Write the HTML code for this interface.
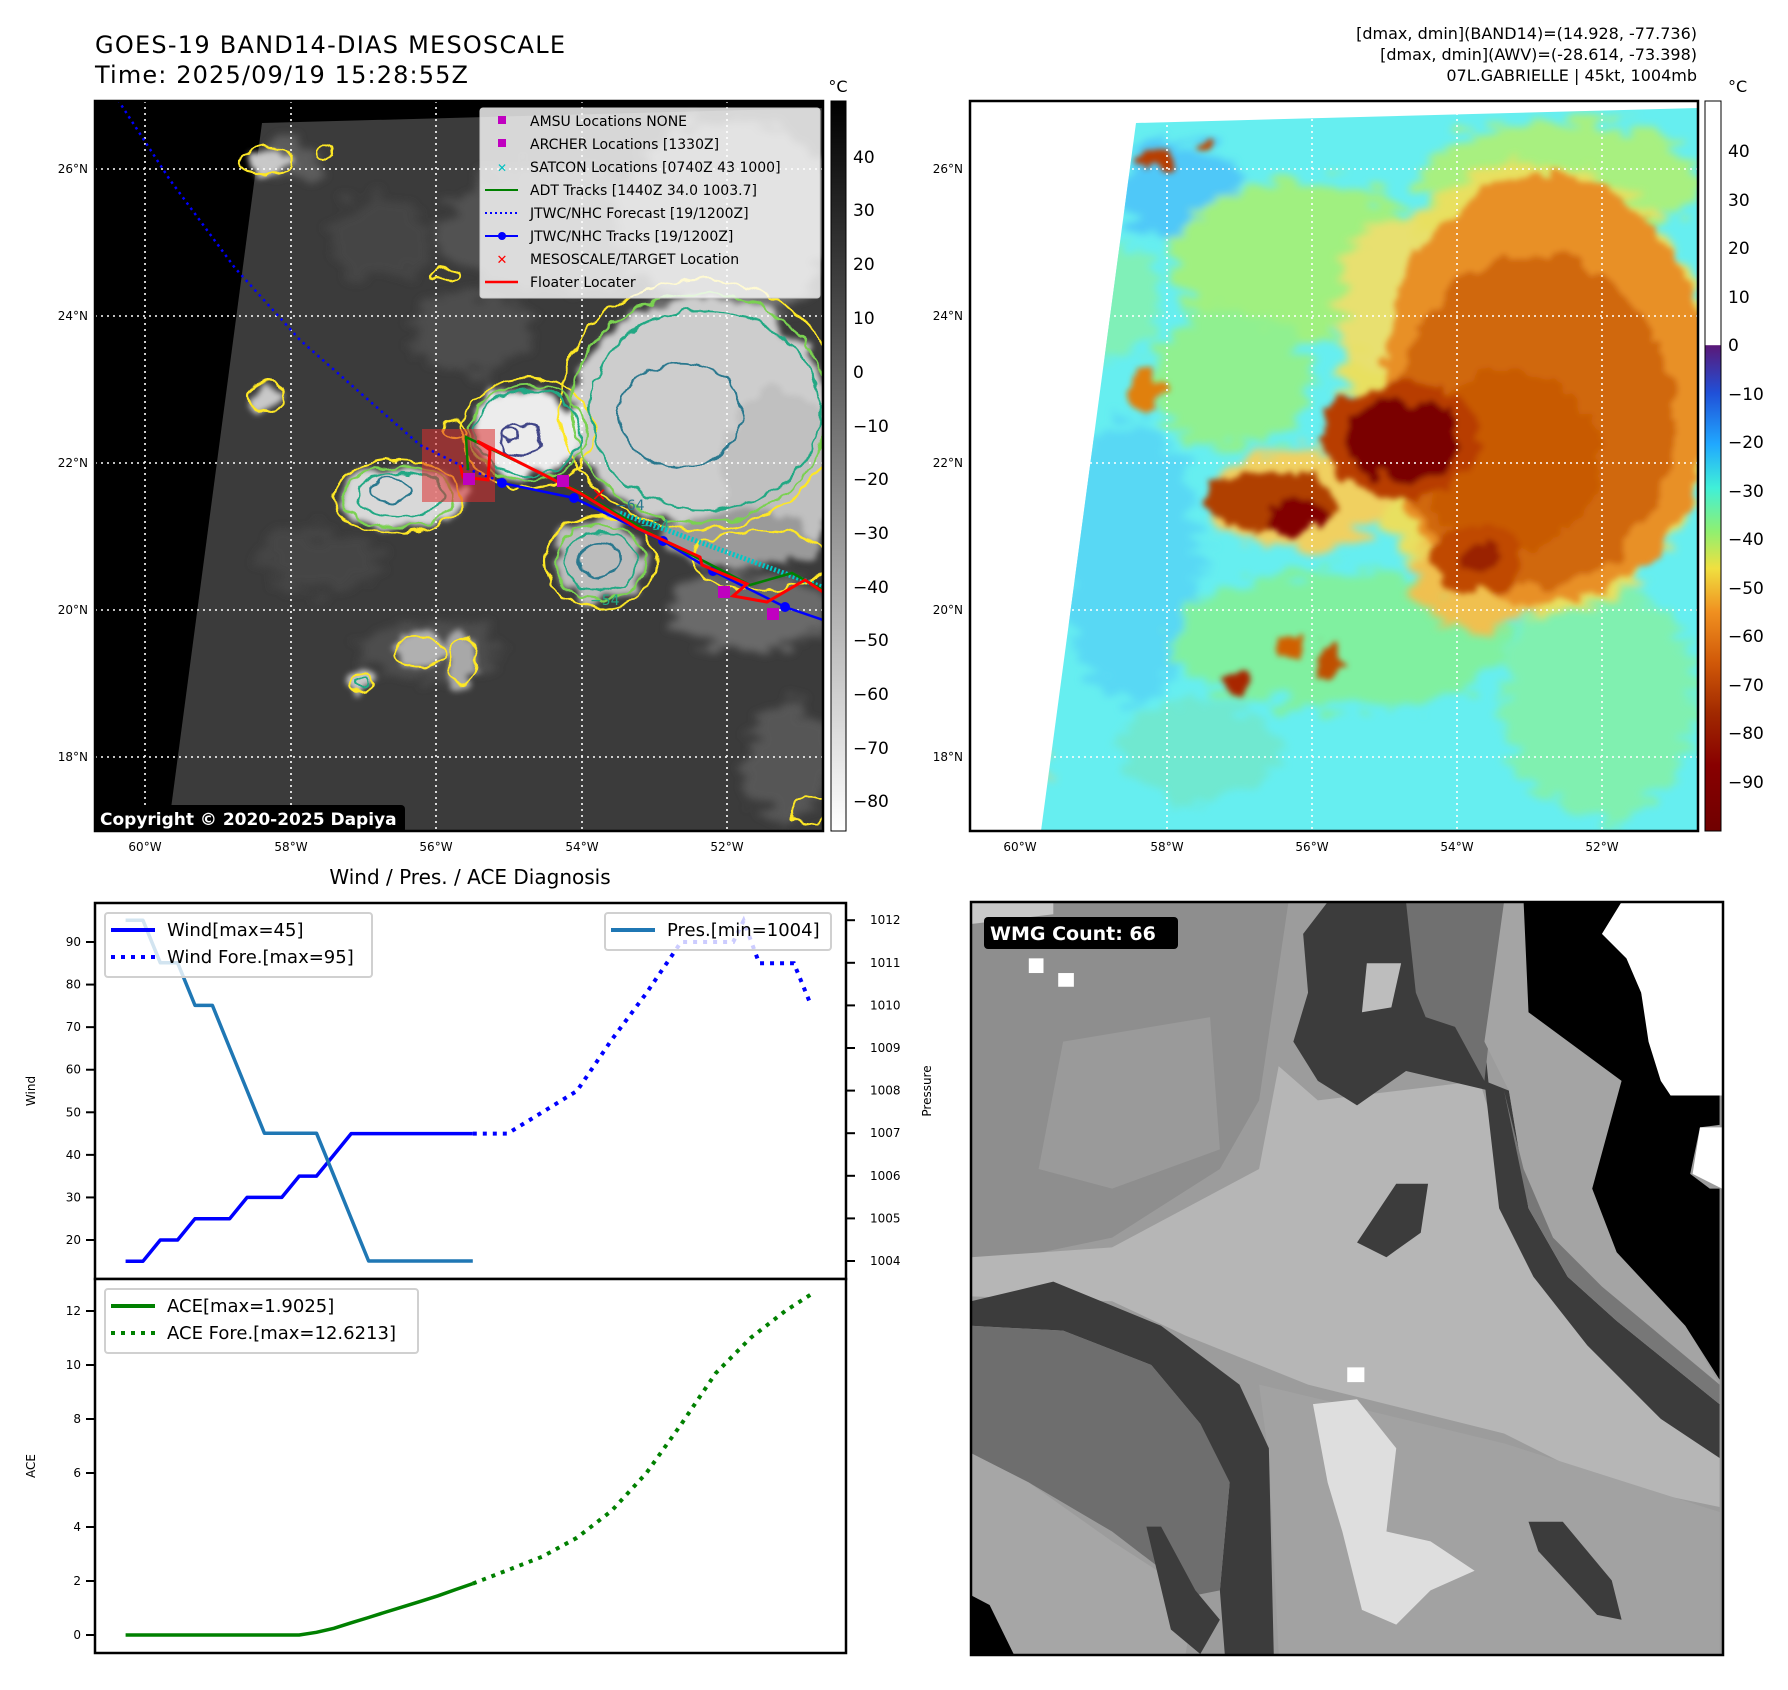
<!DOCTYPE html>
<html><head><meta charset="utf-8">
<style>
html,body{margin:0;padding:0;background:#fff;}
svg{display:block;font-family:"DejaVu Sans","Liberation Sans",sans-serif;}
</style></head>
<body>
<svg id="fig" width="1788" height="1690" viewBox="0 0 1788 1690" xmlns="http://www.w3.org/2000/svg">
<defs>
  <clipPath id="clipL"><rect x="95" y="101" width="728" height="730"/></clipPath>
  <clipPath id="clipR"><rect x="970" y="101" width="728" height="730"/></clipPath>
  <clipPath id="clipFoot"><polygon points="1136,123 1698,108 1698,831 1041,831"/></clipPath>
  <filter id="blur6" x="-30%" y="-30%" width="160%" height="160%"><feGaussianBlur stdDeviation="6"/></filter>
  <filter id="blur12" x="-30%" y="-30%" width="160%" height="160%"><feGaussianBlur stdDeviation="12"/></filter>
  <filter id="blur20" x="-30%" y="-30%" width="160%" height="160%"><feGaussianBlur stdDeviation="20"/></filter>
  <filter id="wob" x="-10%" y="-10%" width="120%" height="120%">
    <feTurbulence type="fractalNoise" baseFrequency="0.06" numOctaves="2" seed="3" result="n"/>
    <feDisplacementMap in="SourceGraphic" in2="n" scale="12" xChannelSelector="R" yChannelSelector="G"/>
  </filter>
  <filter id="wobBlur" x="-20%" y="-20%" width="140%" height="140%">
    <feTurbulence type="fractalNoise" baseFrequency="0.04" numOctaves="3" seed="7" result="n"/>
    <feDisplacementMap in="SourceGraphic" in2="n" scale="30" xChannelSelector="R" yChannelSelector="G" result="d"/>
    <feGaussianBlur in="d" stdDeviation="3"/>
  </filter>
  <filter id="streak" x="-20%" y="-20%" width="140%" height="140%">
    <feTurbulence type="fractalNoise" baseFrequency="0.03 0.09" numOctaves="3" seed="11" result="n"/>
    <feDisplacementMap in="SourceGraphic" in2="n" scale="50" xChannelSelector="R" yChannelSelector="G" result="d"/>
    <feGaussianBlur in="d" stdDeviation="4"/>
  </filter>
  <linearGradient id="grayBar" x1="0" y1="0" x2="0" y2="1">
    <stop offset="0" stop-color="#000"/><stop offset="1" stop-color="#fff"/>
  </linearGradient>
  <linearGradient id="awvBar" x1="0" y1="101" x2="0" y2="831" gradientUnits="userSpaceOnUse">
    <stop offset="0" stop-color="#fff"/>
    <stop offset="0.334" stop-color="#fff"/>
    <stop offset="0.335" stop-color="#5a1878"/>
    <stop offset="0.40" stop-color="#2050d8"/>
    <stop offset="0.47" stop-color="#20a8ff"/>
    <stop offset="0.53" stop-color="#40f0d8"/>
    <stop offset="0.59" stop-color="#90f070"/>
    <stop offset="0.64" stop-color="#f0e040"/>
    <stop offset="0.70" stop-color="#f09020"/>
    <stop offset="0.77" stop-color="#d05808"/>
    <stop offset="0.84" stop-color="#a02800"/>
    <stop offset="0.91" stop-color="#880000"/>
    <stop offset="1" stop-color="#700000"/>
  </linearGradient>
</defs>

<!-- ================= TITLES ================= -->
<text x="95" y="53" font-size="24" fill="#000" textLength="470">GOES-19 BAND14-DIAS MESOSCALE</text>
<text x="95" y="83" font-size="24" fill="#000" textLength="373">Time: 2025/09/19 15:28:55Z</text>
<g font-size="16" text-anchor="end" fill="#000">
  <text x="1697" y="39">[dmax, dmin](BAND14)=(14.928, -77.736)</text>
  <text x="1697" y="60">[dmax, dmin](AWV)=(-28.614, -73.398)</text>
  <text x="1697" y="81">07L.GABRIELLE | 45kt, 1004mb</text>
</g>

<!-- ================= LEFT MAP ================= -->
<g>
<g clip-path="url(#clipL)">
  <rect x="95" y="101" width="728" height="730" fill="#000"/>
  <polygon points="262,123 823,108 823,831 168,831" fill="#3b3b3b"/>
  <g filter="url(#streak)" opacity="0.9">
    <ellipse cx="560" cy="230" rx="120" ry="60" fill="#555"/>
    <ellipse cx="730" cy="220" rx="110" ry="100" fill="#7a7a7a"/>
    <ellipse cx="470" cy="330" rx="60" ry="40" fill="#505050"/>
    <ellipse cx="750" cy="610" rx="80" ry="40" fill="#707070"/>
    <ellipse cx="790" cy="760" rx="45" ry="60" fill="#5a5a5a"/>
    <ellipse cx="430" cy="650" rx="70" ry="30" fill="#505050"/>
    <ellipse cx="320" cy="560" rx="60" ry="30" fill="#474747"/>
    <ellipse cx="290" cy="160" rx="30" ry="18" fill="#606060"/>
    <ellipse cx="380" cy="240" rx="50" ry="40" fill="#474747"/>
  </g>
  <g filter="url(#wobBlur)">
    <ellipse cx="700" cy="410" rx="128" ry="112" fill="#cdcdcd"/>
    <ellipse cx="780" cy="470" rx="60" ry="80" fill="#c0c0c0"/>
    <ellipse cx="528" cy="433" rx="54" ry="44" fill="#ececec"/>
    <ellipse cx="400" cy="497" rx="60" ry="32" fill="#d8d8d8"/>
    <ellipse cx="600" cy="560" rx="48" ry="40" fill="#bcbcbc"/>
    <ellipse cx="740" cy="540" rx="80" ry="30" fill="#9a9a9a"/>
    <ellipse cx="266" cy="396" rx="16" ry="14" fill="#c8c8c8"/>
    <ellipse cx="268" cy="162" rx="22" ry="12" fill="#c8c8c8"/>
    <ellipse cx="362" cy="680" rx="14" ry="12" fill="#c8c8c8"/>
    <ellipse cx="420" cy="650" rx="26" ry="16" fill="#b0b0b0"/>
    <ellipse cx="460" cy="660" rx="16" ry="26" fill="#a8a8a8"/>
  </g>
  <g stroke="#fff" stroke-width="1.6" stroke-dasharray="2 4">
    <line x1="145" y1="101" x2="145" y2="831"/><line x1="291" y1="101" x2="291" y2="831"/>
    <line x1="436" y1="101" x2="436" y2="831"/><line x1="582" y1="101" x2="582" y2="831"/>
    <line x1="727" y1="101" x2="727" y2="831"/>
    <line x1="95" y1="169" x2="823" y2="169"/><line x1="95" y1="316" x2="823" y2="316"/>
    <line x1="95" y1="463" x2="823" y2="463"/><line x1="95" y1="610" x2="823" y2="610"/>
    <line x1="95" y1="757" x2="823" y2="757"/>
  </g>
  <g fill="none" stroke-width="2.2" filter="url(#wob)">
    <g stroke="#fde725">
      <ellipse cx="700" cy="405" rx="140" ry="125"/>
      <ellipse cx="528" cy="433" rx="66" ry="55"/>
      <ellipse cx="398" cy="497" rx="64" ry="36"/>
      <ellipse cx="600" cy="562" rx="55" ry="46"/>
      <ellipse cx="760" cy="560" rx="70" ry="30"/>
      <ellipse cx="268" cy="162" rx="26" ry="15"/>
      <ellipse cx="266" cy="396" rx="18" ry="15"/>
      <ellipse cx="362" cy="682" rx="12" ry="11"/>
      <ellipse cx="420" cy="652" rx="24" ry="15"/>
      <ellipse cx="463" cy="660" rx="14" ry="24"/>
      <ellipse cx="325" cy="152" rx="8" ry="6"/>
      <ellipse cx="445" cy="275" rx="14" ry="6"/>
      <ellipse cx="455" cy="430" rx="12" ry="10"/>
      <ellipse cx="810" cy="810" rx="18" ry="14"/>
    </g>
    <g stroke="#7ad151">
      <ellipse cx="700" cy="408" rx="128" ry="115"/>
      <ellipse cx="528" cy="433" rx="58" ry="48"/>
      <ellipse cx="398" cy="497" rx="56" ry="30"/>
      <ellipse cx="600" cy="562" rx="46" ry="38"/>
    </g>
    <g stroke="#22a884">
      <ellipse cx="705" cy="410" rx="115" ry="100"/>
      <ellipse cx="528" cy="433" rx="52" ry="43"/>
      <ellipse cx="400" cy="495" rx="44" ry="22"/>
      <ellipse cx="600" cy="562" rx="36" ry="30"/>
      <ellipse cx="362" cy="682" rx="7" ry="6"/>
    </g>
    <g stroke="#2a788e">
      <ellipse cx="680" cy="415" rx="62" ry="52"/>
      <ellipse cx="600" cy="560" rx="20" ry="18"/>
      <ellipse cx="390" cy="490" rx="20" ry="12"/>
    </g>
    <g stroke="#414487">
      <ellipse cx="520" cy="440" rx="20" ry="16"/>
      <ellipse cx="510" cy="435" rx="8" ry="6"/>
    </g>
  </g>
  <g font-size="14" fill="#22a884">
    <text x="640" y="530">−54</text><text x="590" y="605">−54</text><text x="615" y="510" fill="#2a788e">−64</text>
  </g>
  <rect x="422" y="429" width="73" height="73" fill="#dc3030" fill-opacity="0.55"/>
  <polyline points="118,100 170,180 235,268 300,340 365,397 420,445 470,470 497,480" fill="none" stroke="#0000ff" stroke-width="2.5" stroke-dasharray="2.5 4"/>
  <polyline points="497,480 502,483 574,498 663,541 713,571 785,607 823,620" fill="none" stroke="#0000ff" stroke-width="2.5"/>
  <g fill="#0000ff">
    <circle cx="502" cy="483" r="5"/><circle cx="574" cy="498" r="5"/><circle cx="663" cy="541" r="5"/>
    <circle cx="713" cy="571" r="5"/><circle cx="785" cy="607" r="5"/>
  </g>
  <polyline points="620,513 822,587" stroke="#00c8c8" stroke-width="5" stroke-dasharray="2 2" fill="none"/>
  <polyline points="468,470 466,437 580,492 657,537 750,585 792,573 823,590" fill="none" stroke="#008000" stroke-width="2.5"/>
  <polyline points="460,465 463,477 488,480 490,450 477,441 580,493 637,528 700,557 702,565 747,584 733,596 767,602 805,580 823,592" fill="none" stroke="#ff0000" stroke-width="3"/>
  <g fill="#c000c0">
    <rect x="463" y="473" width="12" height="12"/><rect x="557" y="475" width="12" height="12"/>
    <rect x="718" y="586" width="12" height="12"/><rect x="767" y="608" width="12" height="12"/>
  </g>
  <text x="599" y="501" font-size="18" font-weight="bold" fill="#ff0000" text-anchor="middle">✕</text>
  <g>
    <rect x="480" y="108" width="340" height="190" rx="3" fill="#fff" fill-opacity="0.8" stroke="#ccc"/>
    <g font-size="14" fill="#000">
      <rect x="498" y="116" width="8" height="8" fill="#c000c0"/><text x="530" y="126">AMSU Locations NONE</text>
      <rect x="498" y="139" width="8" height="8" fill="#c000c0"/><text x="530" y="149">ARCHER Locations [1330Z]</text>
      <text x="502" y="172" font-size="12" fill="#00c0c0" font-weight="bold" text-anchor="middle">✕</text><text x="530" y="172">SATCON Locations [0740Z 43 1000]</text>
      <line x1="485" y1="190" x2="518" y2="190" stroke="#008000" stroke-width="2"/><text x="530" y="195">ADT Tracks [1440Z 34.0 1003.7]</text>
      <line x1="485" y1="213" x2="518" y2="213" stroke="#0000ff" stroke-width="2" stroke-dasharray="2 3"/><text x="530" y="218">JTWC/NHC Forecast [19/1200Z]</text>
      <line x1="485" y1="236" x2="518" y2="236" stroke="#0000ff" stroke-width="2"/><circle cx="502" cy="236" r="4" fill="#0000ff"/><text x="530" y="241">JTWC/NHC Tracks [19/1200Z]</text>
      <text x="502" y="264" font-size="13" fill="#ff0000" font-weight="bold" text-anchor="middle">✕</text><text x="530" y="264">MESOSCALE/TARGET Location</text>
      <line x1="485" y1="282" x2="518" y2="282" stroke="#ff0000" stroke-width="2.5"/><text x="530" y="287">Floater Locater</text>
    </g>
  </g>
  <rect x="95" y="805" width="310" height="28" rx="4" fill="#000"/>
  <text x="100" y="825" font-size="17" font-weight="bold" fill="#fff">Copyright © 2020-2025 Dapiya</text>
</g>
<rect x="95" y="101" width="728" height="730" fill="none" stroke="#000" stroke-width="2.5"/>
<g font-size="12" fill="#000" text-anchor="end">
  <text x="88" y="173">26°N</text><text x="88" y="320">24°N</text><text x="88" y="467">22°N</text><text x="88" y="614">20°N</text><text x="88" y="761">18°N</text>
</g>
<g font-size="12" fill="#000" text-anchor="middle">
  <text x="145" y="851">60°W</text><text x="291" y="851">58°W</text><text x="436" y="851">56°W</text><text x="582" y="851">54°W</text><text x="727" y="851">52°W</text>
</g>
<rect x="831" y="101" width="15" height="730" fill="url(#grayBar)" stroke="#000" stroke-width="1"/>
<text x="838" y="92" font-size="16" text-anchor="middle">°C</text>
<g font-size="17" fill="#000">
  <text x="853" y="163">40</text><text x="853" y="216">30</text><text x="853" y="270">20</text><text x="853" y="324">10</text>
  <text x="853" y="378">0</text><text x="853" y="432">−10</text><text x="853" y="485">−20</text><text x="853" y="539">−30</text>
  <text x="853" y="593">−40</text><text x="853" y="646">−50</text><text x="853" y="700">−60</text><text x="853" y="754">−70</text><text x="853" y="807">−80</text>
</g>
</g>

<!-- ================= RIGHT MAP ================= -->
<g>
<g clip-path="url(#clipR)">
  <rect x="970" y="101" width="728" height="730" fill="#fff"/>
  <polygon points="1136,123 1698,108 1698,831 1041,831" fill="#66eef0"/>
  <g clip-path="url(#clipFoot)">
  <g filter="url(#streak)">
    <ellipse cx="1180" cy="190" rx="60" ry="50" fill="#50c8f8"/>
    <ellipse cx="1130" cy="560" rx="70" ry="140" fill="#58d8f4"/>
    <ellipse cx="1300" cy="260" rx="130" ry="80" fill="#a0f080"/>
    <ellipse cx="1230" cy="380" rx="80" ry="70" fill="#90f090"/>
    <ellipse cx="1340" cy="640" rx="170" ry="70" fill="#80f0a0"/>
    <ellipse cx="1600" cy="700" rx="100" ry="120" fill="#80f0b0"/>
    <ellipse cx="1560" cy="180" rx="140" ry="60" fill="#a8f080"/>
    <ellipse cx="1100" cy="300" rx="60" ry="60" fill="#80f0b8"/>
    <ellipse cx="1200" cy="750" rx="80" ry="50" fill="#70e8d0"/>
    <ellipse cx="1010" cy="760" rx="30" ry="50" fill="#e8d060"/>
  </g>
  <g filter="url(#streak)">
    <ellipse cx="1530" cy="390" rx="185" ry="225" fill="#e8e060"/>
    <ellipse cx="1300" cy="500" rx="90" ry="50" fill="#f0d060"/>
    <ellipse cx="1480" cy="575" rx="65" ry="55" fill="#f0c050"/>
    <ellipse cx="1400" cy="300" rx="60" ry="80" fill="#e8e070"/>
  </g>
  <g filter="url(#wobBlur)">
    <ellipse cx="1545" cy="390" rx="165" ry="215" fill="#e89028"/>
    <ellipse cx="1535" cy="420" rx="140" ry="165" fill="#d06808"/>
    <ellipse cx="1510" cy="460" rx="90" ry="90" fill="#c85a04"/>
    <ellipse cx="1402" cy="440" rx="80" ry="58" fill="#b83c00"/>
    <ellipse cx="1402" cy="440" rx="58" ry="42" fill="#7a0000"/>
    <ellipse cx="1270" cy="500" rx="66" ry="30" fill="#b04000"/>
    <ellipse cx="1296" cy="516" rx="32" ry="18" fill="#820400"/>
    <ellipse cx="1475" cy="560" rx="44" ry="34" fill="#c04800"/>
    <ellipse cx="1480" cy="555" rx="20" ry="14" fill="#9a2000"/>
    <ellipse cx="1239" cy="682" rx="14" ry="12" fill="#a82800"/>
    <ellipse cx="1290" cy="651" rx="14" ry="10" fill="#d06000"/>
    <ellipse cx="1328" cy="664" rx="12" ry="16" fill="#c05000"/>
    <ellipse cx="1160" cy="160" rx="18" ry="12" fill="#b83c00"/>
    <ellipse cx="1205" cy="146" rx="8" ry="7" fill="#c04800"/>
    <ellipse cx="1146" cy="388" rx="16" ry="20" fill="#e08010"/>
  </g>
  </g>
  <g stroke="#fff" stroke-width="1.6" stroke-dasharray="2 4">
    <line x1="1022" y1="101" x2="1022" y2="831"/><line x1="1167" y1="101" x2="1167" y2="831"/>
    <line x1="1312" y1="101" x2="1312" y2="831"/><line x1="1457" y1="101" x2="1457" y2="831"/>
    <line x1="1602" y1="101" x2="1602" y2="831"/>
    <line x1="970" y1="169" x2="1698" y2="169"/><line x1="970" y1="316" x2="1698" y2="316"/>
    <line x1="970" y1="463" x2="1698" y2="463"/><line x1="970" y1="610" x2="1698" y2="610"/>
    <line x1="970" y1="757" x2="1698" y2="757"/>
  </g>
</g>
<rect x="970" y="101" width="728" height="730" fill="none" stroke="#000" stroke-width="2.5"/>
<g font-size="12" fill="#000" text-anchor="end">
  <text x="963" y="173">26°N</text><text x="963" y="320">24°N</text><text x="963" y="467">22°N</text><text x="963" y="614">20°N</text><text x="963" y="761">18°N</text>
</g>
<g font-size="12" fill="#000" text-anchor="middle">
  <text x="1020" y="851">60°W</text><text x="1167" y="851">58°W</text><text x="1312" y="851">56°W</text><text x="1457" y="851">54°W</text><text x="1602" y="851">52°W</text>
</g>
<rect x="1705" y="101" width="16" height="730" fill="url(#awvBar)" stroke="#000" stroke-width="1"/>
<text x="1728" y="92" font-size="16">°C</text>
<g font-size="17" fill="#000">
  <text x="1728" y="157">40</text><text x="1728" y="206">30</text><text x="1728" y="254">20</text><text x="1728" y="303">10</text>
  <text x="1728" y="351">0</text><text x="1728" y="400">−10</text><text x="1728" y="448">−20</text><text x="1728" y="497">−30</text>
  <text x="1728" y="545">−40</text><text x="1728" y="594">−50</text><text x="1728" y="642">−60</text><text x="1728" y="691">−70</text>
  <text x="1728" y="739">−80</text><text x="1728" y="788">−90</text>
</g>
</g>

<!-- ================= WMG PANEL ================= -->
<g>
<svg x="971" y="902" width="752" height="753" viewBox="12 15 1535 1537" preserveAspectRatio="none">
  <rect x="12" y="15" width="1535" height="1537" fill="#9c9c9c"/>
  <polygon points="12,15 660,15 600,420 520,560 300,700 12,760" fill="#8e8e8e"/>
  <polygon points="200,300 500,250 520,520 300,600 150,560" fill="#9a9a9a"/>
  <polygon points="12,740 300,720 600,560 640,350 720,420 1050,380 1150,700 1300,900 1540,1100 1540,1250 1300,1200 1100,1100 700,1000 450,900 300,830 12,820" fill="#b6b6b6"/>
  <polygon points="600,1000 1100,1120 1540,1260 1540,1550 640,1550 620,1150" fill="#a2a2a2"/>
  <polygon points="740,15 1100,15 1080,200 1060,300 1070,400 900,360 800,430 720,380 670,300 700,200 690,80" fill="#3c3c3c"/>
  <polygon points="820,140 890,140 870,230 810,240" fill="#bdbdbd"/>
  <polygon points="900,15 1100,15 1060,380 1000,270 940,250 920,200" fill="#707070"/>
  <polygon points="1060,380 1110,400 1150,640 1230,780 1330,870 1540,1040 1540,1150 1420,1070 1270,920 1160,780 1090,640" fill="#3c3c3c"/>
  <polygon points="1100,15 1150,15 1150,240 1340,380 1290,580 1330,720 1460,860 1540,1000 1540,1040 1330,870 1230,780 1150,640 1110,400 1060,300 1080,160" fill="#a4a4a4"/>
  <polygon points="1100,400 1140,560 1200,700 1300,800 1420,900 1540,1000 1540,1040 1330,870 1230,780 1150,640" fill="#777"/>
  <polygon points="1140,15 1340,15 1300,80 1350,130 1380,200 1400,300 1440,410 1540,410 1540,470 1500,475 1480,570 1520,600 1540,600 1540,990 1470,880 1330,730 1280,600 1340,380 1150,240" fill="#000"/>
  <polygon points="1340,15 1545,15 1545,410 1440,410 1420,380 1395,300 1380,200 1350,130 1300,80" fill="#fff"/>
  <polygon points="1500,475 1545,475 1545,600 1485,570" fill="#fff"/>
  <polygon points="880,590 945,590 930,690 860,740 800,710 840,650" fill="#3c3c3c"/>
  <polygon points="12,830 180,790 400,880 560,1000 620,1130 630,1550 530,1550 520,1420 540,1200 480,1080 380,960 200,890 12,880" fill="#3c3c3c"/>
  <polygon points="12,880 200,890 380,960 480,1080 540,1200 520,1420 470,1430 300,1300 130,1200 12,1140" fill="#6e6e6e"/>
  <polygon points="12,1140 130,1200 300,1320 470,1430 450,1550 100,1550 12,1450" fill="#a6a6a6"/>
  <polygon points="370,1290 400,1290 470,1420 520,1480 480,1550 420,1500" fill="#3c3c3c"/>
  <polygon points="12,1430 50,1450 100,1552 12,1552" fill="#000"/>
  <polygon points="710,1040 800,1030 880,1130 860,1300 950,1320 1040,1380 950,1420 880,1490 810,1460 770,1300 740,1200" fill="#dedede"/>
  <polygon points="780,965 815,965 815,995 780,995" fill="#fff"/>
  <polygon points="130,130 160,130 160,160 130,160" fill="#fff"/>
  <polygon points="190,160 222,160 222,188 190,188" fill="#fff"/>
  <polygon points="1150,1280 1220,1280 1320,1400 1340,1480 1290,1470 1170,1340" fill="#3c3c3c"/>
  <polygon points="12,15 180,15 180,40 12,60" fill="#c8c8c8"/>
</svg>
<rect x="971" y="902" width="752" height="753" fill="none" stroke="#000" stroke-width="2.5"/>
<rect x="984" y="917" width="194" height="32" rx="4" fill="#000"/>
<text x="990" y="940" font-size="19" font-weight="bold" fill="#fff">WMG Count: 66</text>
</g>

<!-- ================= DIAGNOSIS CHART ================= -->
<text x="470" y="884" font-size="20" text-anchor="middle">Wind / Pres. / ACE Diagnosis</text>
<g id="chart"></g>
</svg>

<script>
// ---- data ----
const obsIdx = [0,1,2,3,4,5,6,7,8,9,10,11,12,13,14,15,16,17,18,19,20];
const windObs = [15,15,20,20,25,25,25,30,30,30,35,35,40,45,45,45,45,45,45,45,45];
const presObs = [1012,1012,1011,1011,1010,1010,1009,1008,1007,1007,1007,1007,1006,1005,1004,1004,1004,1004,1004,1004,1004];
const aceObs = [0,0,0,0,0,0,0,0,0,0,0,0.1,0.25,0.45,0.65,0.85,1.05,1.25,1.45,1.68,1.9025];
const foreIdx = [20,22,24,26,28,30,32,33.5,35,35.6,36.5,38.5,39.5];
const windFore = [45,45,50,55,67,78,90,90,90,95,85,85,75];
const aceForeIdx = [20,22,24,26,28,30,32,34,36,38,39.5];
const aceFore = [1.9025,2.4,2.9,3.6,4.6,6.0,7.8,9.7,11.0,12.0,12.6213];
const windTicks = [20,30,40,50,60,70,80,90];
const presTicks = [1004,1005,1006,1007,1008,1009,1010,1011,1012];
const aceTicks = [0,2,4,6,8,10,12];

// ---- axes ----
const L = 95, R = 846, T1 = 903, B1 = 1279, T2 = 1279, B2 = 1653;
const kMin = -1.76, kMax = 41.5;
function xS(k){ return L + (k - kMin) / (kMax - kMin) * (R - L); }
function yWind(v){ return 1240 - (v - 20) * 4.257; }
function yPres(p){ return 1261 - (p - 1004) * 42.6; }
function yAce(a){ return 1635 - a * 27; }

const NS = 'http://www.w3.org/2000/svg';
const chart = document.getElementById('chart');
function mk(tag, attrs, parent){
  const e = document.createElementNS(NS, tag);
  for (const k in attrs) e.setAttribute(k, attrs[k]);
  (parent || chart).appendChild(e);
  return e;
}
function pts(xs, ys, yf){ return xs.map((x,i)=> xS(x).toFixed(1)+','+yf(ys[i]).toFixed(1)).join(' '); }

let el = mk('rect', {x:L, y:T1, width:R-L, height:B1-T1, fill:'#fff', stroke:'#000', 'stroke-width':2.5});


el = mk('rect', {x:L, y:T2, width:R-L, height:B2-T2, fill:'#fff', stroke:'#000', 'stroke-width':2.5});



windTicks.forEach(v=>{
  const y = yWind(v);
  mk('line', {x1:L-9, y1:y, x2:L, y2:y, stroke:'#000', 'stroke-width':2});
  const t = mk('text', {x:L-14, y:y+4, 'font-size':12, 'text-anchor':'end'});
  t.textContent = v;
  
  
});
presTicks.forEach(p=>{
  const y = yPres(p);
  mk('line', {x1:R, y1:y, x2:R+9, y2:y, stroke:'#000', 'stroke-width':2});
  const t = mk('text', {x:R+24, y:y+4, 'font-size':12});
  t.textContent = p;
  
  
});
aceTicks.forEach(a=>{
  const y = yAce(a);
  mk('line', {x1:L-9, y1:y, x2:L, y2:y, stroke:'#000', 'stroke-width':2});
  const t = mk('text', {x:L-14, y:y+4, 'font-size':12, 'text-anchor':'end'});
  t.textContent = a;
  
  
});
let lab = mk('text', {x:0, y:0, 'font-size':12, 'text-anchor':'middle', transform:'translate(35,1091) rotate(-90)'});
lab.textContent = 'Wind';


lab = mk('text', {x:0, y:0, 'font-size':12, 'text-anchor':'middle', transform:'translate(931,1091) rotate(-90)'});
lab.textContent = 'Pressure';


lab = mk('text', {x:0, y:0, 'font-size':12, 'text-anchor':'middle', transform:'translate(35,1466) rotate(-90)'});
lab.textContent = 'ACE';



let s = mk('polyline', {points: pts(obsIdx, windObs, yWind), fill:'none', stroke:'#0000ff', 'stroke-width':3.5, 'stroke-linejoin':'round'});


s = mk('polyline', {points: pts(foreIdx, windFore, yWind), fill:'none', stroke:'#0000ff', 'stroke-width':4, 'stroke-dasharray':'4 6'});


s = mk('polyline', {points: pts(obsIdx, presObs, yPres), fill:'none', stroke:'#1f77b4', 'stroke-width':3.5, 'stroke-linejoin':'round'});


s = mk('polyline', {points: pts(obsIdx, aceObs, yAce), fill:'none', stroke:'#008000', 'stroke-width':3.5});


s = mk('polyline', {points: pts(aceForeIdx, aceFore, yAce), fill:'none', stroke:'#008000', 'stroke-width':4, 'stroke-dasharray':'4 6'});



function legend(name, x, y, w, rows){
  const g = mk('g', {});
  
  
  mk('rect', {x:x, y:y, width:w, height:rows.length*27+10, rx:3, fill:'#fff', 'fill-opacity':0.8, stroke:'#d0d0d0', 'stroke-width':2}, g);
  rows.forEach((r,i)=>{
    const cy = y + 17 + i*27;
    const a = {x1:x+6, y1:cy, x2:x+50, y2:cy, stroke:r.c, 'stroke-width':4};
    if (r.d) a['stroke-dasharray'] = '4 6';
    mk('line', a, g);
    const t = mk('text', {x:x+62, y:cy+6, 'font-size':18}, g);
    t.textContent = r.t;
  });
}
legend('wind-legend', 105, 913, 267, [{c:'#0000ff', t:'Wind[max=45]'},{c:'#0000ff', t:'Wind Fore.[max=95]', d:true}]);
legend('pressure-legend', 605, 913, 226, [{c:'#1f77b4', t:'Pres.[min=1004]'}]);
legend('ace-legend', 105, 1289, 313, [{c:'#008000', t:'ACE[max=1.9025]'},{c:'#008000', t:'ACE Fore.[max=12.6213]', d:true}]);
</script>
</body></html>
